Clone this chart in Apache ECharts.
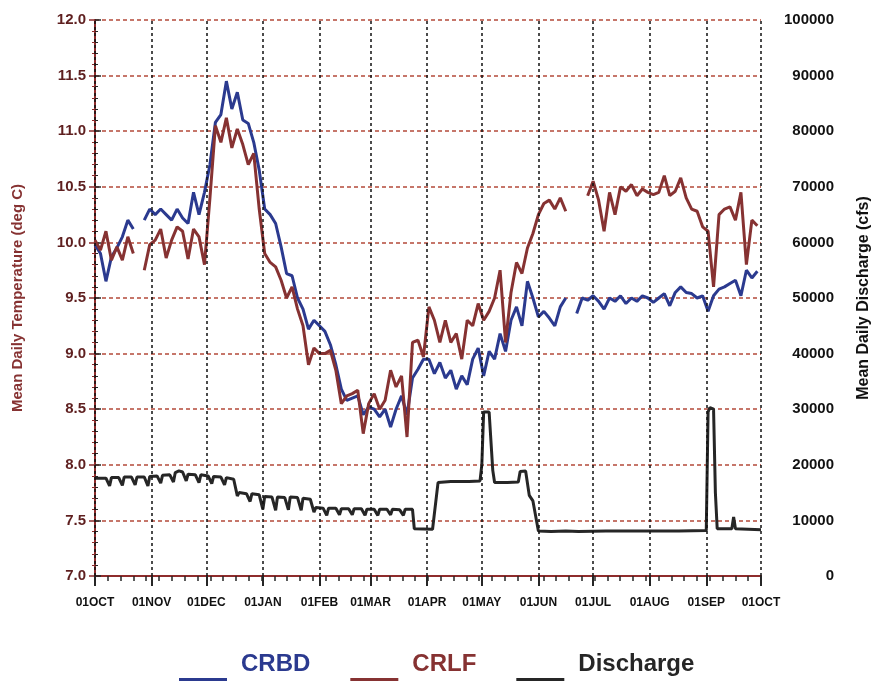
<!DOCTYPE html>
<html>
<head>
<meta charset="utf-8">
<title>CRBD / CRLF temperature and discharge</title>
<script src="https://cdn.jsdelivr.net/npm/echarts@6/dist/echarts.min.js"></script>
<style>
  html, body { margin: 0; padding: 0; background: #fff; }
  #chart { width: 880px; height: 682px; }
</style>
</head>
<body>
<div id="chart"></div>
<script>
// day of water year (0 = 01OCT)
var days = [
  0, 3, 6, 9, 12, 15, 18, 21, 24, 27, 30, 33, 36, 39, 42, 45, 48, 51, 54, 57,
  60, 63, 66, 69, 72, 75, 78, 81, 84, 87, 90, 93, 96, 99, 102, 105, 108, 111, 114, 117,
  120, 123, 126, 129, 132, 135, 138, 141, 144, 147, 150, 153, 156, 159, 162, 165, 168, 171, 174, 177,
  180, 183, 186, 189, 192, 195, 198, 201, 204, 207, 210, 213, 216, 219, 222, 225, 228, 231, 234, 237,
  240, 243, 246, 249, 252, 255, 258, 261, 264, 267, 270, 273, 276, 279, 282, 285, 288, 291, 294, 297,
  300, 303, 306, 309, 312, 315, 318, 321, 324, 327, 330, 333, 336, 339, 342, 345, 348, 351, 354, 357,
  360, 363
];

// mean daily temperature, deg C
var crbd = [
  9.98, 9.9, 9.65, 9.87, 9.95, 10.05, 10.2, 10.12, null, 10.2,
  10.3, 10.25, 10.3, 10.25, 10.2, 10.3, 10.22, 10.17, 10.45, 10.25,
  10.45, 10.7, 11.08, 11.15, 11.45, 11.2, 11.35, 11.1, 11.07, 10.9,
  10.65, 10.3, 10.25, 10.17, 9.96, 9.72, 9.7, 9.5, 9.4, 9.22,
  9.3, 9.25, 9.2, 9.08, 8.9, 8.68, 8.58, 8.6, 8.62, 8.45,
  8.52, 8.5, 8.43, 8.5, 8.34, 8.5, 8.62, 8.45, 8.78, 8.86,
  8.95, 8.95, 8.82, 8.92, 8.78, 8.85, 8.68, 8.8, 8.72, 8.95,
  9.05, 8.8, 9.02, 8.95, 9.18, 9.02, 9.3, 9.42, 9.25, 9.65,
  9.5, 9.33, 9.38, 9.32, 9.25, 9.42, 9.5, null, 9.36, 9.5,
  9.48, 9.52, 9.47, 9.4, 9.5, 9.47, 9.52, 9.45, 9.5, 9.47,
  9.52, 9.5, 9.46, 9.5, 9.54, 9.43, 9.55, 9.6, 9.55, 9.54,
  9.5, 9.52, 9.38, 9.52, 9.58, 9.6, 9.63, 9.66, 9.52, 9.75,
  9.68, 9.74
];

var crlf = [
  10.02, 9.93, 10.1, 9.84, 9.96, 9.84, 10.05, 9.9, null, 9.75,
  9.98, 10.02, 10.12, 9.86, 10.02, 10.14, 10.1, 9.85, 10.12, 10.05,
  9.8, 10.4, 11.05, 10.9, 11.12, 10.85, 11.02, 10.88, 10.7, 10.8,
  10.3, 9.9, 9.82, 9.78, 9.66, 9.5, 9.6, 9.4, 9.25, 8.9,
  9.05, 9.0, 9.0, 9.03, 8.85, 8.55, 8.62, 8.64, 8.67, 8.28,
  8.55, 8.64, 8.5, 8.58, 8.85, 8.7, 8.8, 8.25, 9.1, 9.12,
  8.97, 9.42, 9.3, 9.1, 9.3, 9.1, 9.18, 8.95, 9.3, 9.25,
  9.45, 9.3, 9.38, 9.5, 9.75, 9.1, 9.55, 9.82, 9.72, 9.95,
  10.08, 10.25, 10.35, 10.38, 10.3, 10.4, 10.28, null, null, null,
  10.42, 10.55, 10.38, 10.1, 10.45, 10.25, 10.5, 10.46, 10.52, 10.42,
  10.48, 10.45, 10.43, 10.45, 10.6, 10.42, 10.46, 10.58, 10.4, 10.3,
  10.28, 10.14, 10.1, 9.6, 10.25, 10.3, 10.32, 10.2, 10.45, 9.8,
  10.2, 10.15
];

// mean daily discharge, cfs
var qDays = [
  0, 6, 8, 9, 13, 15, 16, 20, 22, 23, 27, 29, 30,
  34, 36, 37, 41, 43, 44, 46, 48, 50, 51, 55, 57, 58,
  62, 64, 65, 69, 71, 72, 76, 78, 79, 83, 85, 86, 90, 92,
  93, 97, 99, 100, 104, 106, 107, 111, 113, 114, 118, 120, 121,
  125, 127, 128, 132, 134, 135, 139, 141, 142, 146, 148, 149,
  153, 155, 156, 160, 162, 163, 167, 169, 170, 174, 175,
  185, 186, 188, 195, 205, 211, 212, 213, 216, 218, 219, 226, 232, 233, 236, 238, 240, 241, 243,
  250, 258, 265, 280, 300, 320, 335, 336, 337, 339, 340, 341, 349, 350, 351, 365
];
var discharge = [
  17600, 17600, 16200, 17700, 17700, 16300, 17800, 17800, 16400, 17800, 17800, 16200, 17900,
  18000, 16700, 18100, 18200, 16900, 18600, 18900, 18700, 17100, 18300, 18200, 16800, 18200,
  18000, 16600, 17900, 17800, 16400, 17700, 17400, 14400, 15000, 14800, 13400, 14800, 14600, 12000,
  14300, 14200, 11800, 14200, 14100, 11900, 14200, 14100, 11800, 14000, 13800, 11500, 12300,
  12200, 10900, 12200, 12200, 11000, 12100, 12100, 11000, 12100, 12100, 10900, 12000,
  12000, 10900, 12000, 12000, 11000, 12000, 11900, 10900, 12000, 12000, 8500,
  8400, 8600, 16800, 17000, 17000, 17100, 20000, 29500, 29500, 19000, 16800, 16800, 16900, 18800, 18900, 14500, 13500, 13300, 8100,
  8000, 8100, 8000, 8100, 8100, 8100, 8200, 29500, 30300, 30000, 15000, 8500, 8500, 10600, 8500, 8300
];

// axis ticks
var monthStarts = [0, 31, 61, 92, 123, 151, 182, 212, 243, 273, 304, 335, 365];
var monthLabels = ['01OCT', '01NOV', '01DEC', '01JAN', '01FEB', '01MAR', '01APR',
                   '01MAY', '01JUN', '01JUL', '01AUG', '01SEP', '01OCT'];

var BLUE = '#2b3a8f';
var RED = '#863232';
var BLACK = '#262626';
var AXISRED = '#8e2c2c';
var FONT = '"Liberation Sans", Arial, sans-serif';
// legend key: short rule drawn under the text line (tiny speck at top keeps the box tall)
var UNDERLINE = 'path://M0,0L0.3,0L0.3,0.1Z M0,31L48,31L48,34L0,34Z';

function pairs(xs, ys) {
    return xs.map(function (x, i) { return [x, ys[i]]; });
}

var chart = echarts.init(document.getElementById('chart'));
var option = {
    animation: false,
    backgroundColor: '#fff',
    textStyle: { fontFamily: FONT },
    grid: { left: 95, right: 110, top: 20, bottom: 106, containLabel: false },
    legend: {
        left: 179,
        top: 647,
        padding: 0,
        icon: UNDERLINE,
        itemWidth: 48,
        itemHeight: 34,
        itemGap: 40,
        textStyle: { fontSize: 24, fontWeight: 'bold', fontFamily: FONT, padding: [0, 0, 0, 9] },
        data: [
            { name: 'CRBD', textStyle: { color: BLUE } },
            { name: 'CRLF', textStyle: { color: RED } },
            { name: 'Discharge', textStyle: { color: BLACK } }
        ]
    },
    xAxis: [
        {
            type: 'value',
            min: 0,
            max: 365,
            position: 'bottom',
            axisLine: { show: true, lineStyle: { color: AXISRED, width: 2 } },
            axisTick: { show: true, customValues: monthStarts, length: 10, lineStyle: { color: BLACK, width: 2 } },
            axisLabel: {
                customValues: monthStarts,
                margin: 21,
                fontSize: 12,
                fontWeight: 'bold',
                color: '#111',
                formatter: function (v) { return monthLabels[monthStarts.indexOf(v)]; }
            },
            splitLine: { show: false }
        },
        {
            type: 'value',
            min: 0,
            max: 364,
            interval: 7,
            position: 'bottom',
            axisLine: { show: false },
            axisTick: { show: true, length: 5, lineStyle: { color: BLACK, width: 1.5 } },
            axisLabel: { show: false },
            splitLine: { show: false }
        }
    ],
    yAxis: [
        {
            type: 'value',
            min: 7,
            max: 12,
            interval: 0.5,
            position: 'left',
            name: 'Mean Daily Temperature (deg C)',
            nameLocation: 'middle',
            nameGap: 70,
            nameRotate: 90,
            nameTextStyle: { color: RED, fontSize: 15, fontWeight: 'bold' },
            axisLine: { show: true, lineStyle: { color: AXISRED, width: 2 } },
            axisTick: { show: true, length: 6, lineStyle: { color: AXISRED, width: 1.5 } },
            minorTick: { show: true, splitNumber: 5, length: 3, lineStyle: { color: AXISRED } },
            axisLabel: {
                margin: 9,
                fontSize: 15,
                fontWeight: 'bold',
                color: '#5e1f1f',
                formatter: function (v) { return v.toFixed(1); }
            },
            splitLine: { show: true, lineStyle: { color: '#b4493a', width: 1.5, type: [4, 3] } }
        },
        {
            type: 'value',
            min: 0,
            max: 100000,
            interval: 10000,
            position: 'right',
            name: 'Mean Daily Discharge (cfs)',
            nameLocation: 'middle',
            nameGap: 95,
            nameRotate: 90,
            nameTextStyle: { color: '#111', fontSize: 16, fontWeight: 'bold' },
            axisLine: { show: true, lineStyle: { color: AXISRED, width: 2 } },
            axisTick: { show: true, length: 6, lineStyle: { color: BLACK, width: 1.5 } },
            minorTick: { show: true, splitNumber: 5, length: 3, lineStyle: { color: BLACK } },
            axisLabel: {
                margin: 73,
                align: 'right',
                fontSize: 15,
                fontWeight: 'bold',
                color: '#111',
                formatter: function (v) { return String(v); }
            },
            splitLine: { show: false }
        }
    ],
    series: [
        {
            name: 'CRBD',
            type: 'line',
            yAxisIndex: 0,
            showSymbol: false,
            symbol: 'none',
            color: BLUE,
            lineStyle: { width: 3, color: BLUE },
            data: pairs(days, crbd)
        },
        {
            name: 'CRLF',
            type: 'line',
            yAxisIndex: 0,
            showSymbol: false,
            symbol: 'none',
            color: RED,
            lineStyle: { width: 3, color: RED },
            data: pairs(days, crlf)
        },
        {
            name: 'Discharge',
            type: 'line',
            yAxisIndex: 1,
            showSymbol: false,
            symbol: 'none',
            color: BLACK,
            lineStyle: { width: 3, color: BLACK },
            data: pairs(qDays, discharge),
            markLine: {
                silent: true,
                symbol: ['none', 'none'],
                label: { show: false },
                lineStyle: { color: '#111', width: 1.5, type: [3, 3] },
                data: monthStarts.map(function (d) { return { xAxis: d }; })
            }
        }
    ]
};
chart.setOption(option);
</script>
</body>
</html>
